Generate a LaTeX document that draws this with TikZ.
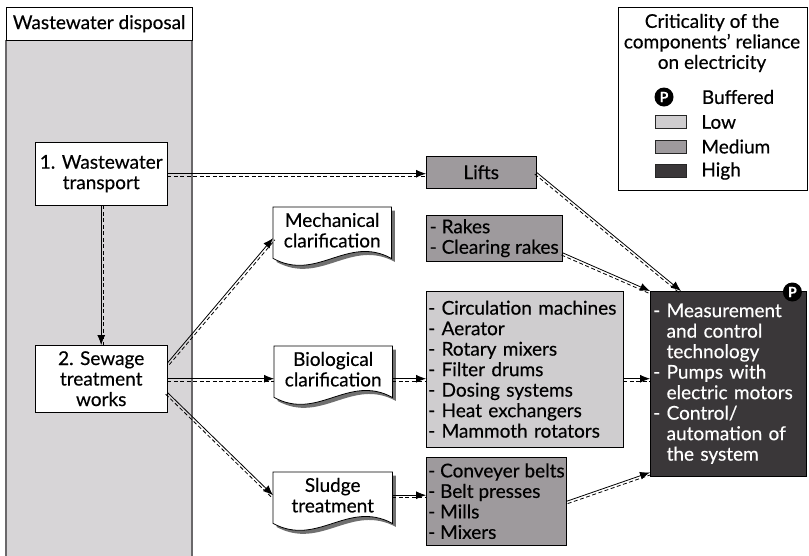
\documentclass[tikz,border=0pt]{standalone}
\usepackage{fontspec}
\setmainfont{Lato}[FakeBold=0.4]
\usetikzlibrary{arrows.meta,positioning,calc,backgrounds}
\definecolor{colgray}{HTML}{D7D5D7}
\definecolor{edgegray}{HTML}{6A686A}
\definecolor{lowgray}{HTML}{CFCDCF}
\definecolor{medgray}{HTML}{9E9A9D}
\definecolor{highgray}{HTML}{3A3739}
\definecolor{shadegray}{HTML}{707070}
\tikzset{>={Latex[length=10pt,width=8pt]},
  txt/.style={font=\fontsize{19}{20.5}\selectfont},
  headbox/.style={txt, draw, fill=white, anchor=north west, minimum width=186pt, minimum height=33pt, inner sep=0pt},
  plainbox/.style={txt, draw, fill=white, anchor=north west, align=center, inner sep=1pt},
  docnode/.style={txt, anchor=north west, align=center, minimum width=118pt, minimum height=46pt, inner sep=1pt},
  lowbox/.style={txt, draw, fill=lowgray, anchor=north west, align=left, inner sep=2pt},
  medbox/.style={txt, draw, fill=medgray, anchor=north west, align=left, inner sep=2pt},
  highbox/.style={txt, draw, fill=highgray, text=white, anchor=north west, align=left, inner sep=3pt},
  badge/.style={circle, fill=black, text=white, inner sep=0pt, minimum size=19pt, font=\fontsize{14}{14}\selectfont\bfseries},
  keybox/.style={draw=black!85, minimum width=31pt, minimum height=13pt, inner sep=0pt},
  solidlink/.style={draw, line width=0.8pt, ->},
  dashlink/.style={draw, line width=0.8pt, dash pattern=on 4pt off 2.5pt}}
% wavy document outline round a node
\newcommand{\docpath}[1]{(#1.north west) -- (#1.north east) -- ($(#1.south east)+(0,5)$)
  .. controls ($(#1.south)+(15,-19)$) and ($(#1.south)+(-15,29)$) .. ($(#1.south west)+(0,5)$) -- cycle}
% solid arrow with a dashed twin beside it
\newcommand{\twinlink}[3][-90]{%
  \path ($(#2)!2.5pt!#1:(#3)$) coordinate (tw-s) ($(#3)+(tw-s)-(#2)$) coordinate (tw-e);
  \draw[dashlink] (tw-s) -- (tw-e);
  \draw[solidlink] (#2) -- (#3);
}

\begin{document}
\begin{tikzpicture}[x=1pt, y=-1pt]
    \useasboundingbox (0,0) rectangle (809,555);
    % left column
    \fill[colgray] (6,40) rectangle (192,560);
    \draw[edgegray, line width=1.2pt] (6,40) -- (6,560) (192,40) -- (192,560);
    \node[headbox] (head) at (6,7) {Wastewater disposal};
    \node[plainbox, minimum width=132pt, minimum height=63pt] (trans) at (35,142) {1. Wastewater\\transport};
    \node[plainbox, minimum width=132pt, minimum height=67pt] (sew) at (35,345) {2. Sewage\\treatment\\works};

    % process steps
    \node[docnode] (mech) at (273,207) {Mechanical\\clarification};
    \node[docnode] (bio) at (274,346) {Biological\\clarification};
    \node[docnode, minimum width=119pt] (sludge) at (273,472) {Sludge\\treatment};
    \begin{scope}[on background layer]
    \foreach \d in {mech,bio,sludge} {
        \fill[shadegray, transform canvas={shift={(3.5pt,-3.5pt)}}] \docpath{\d};
        \draw[fill=white, line width=0.8pt] \docpath{\d};
    }
    \end{scope}

    % components
    \node[medbox, align=center, minimum width=110pt, minimum height=32pt] (lifts) at (426,156) {Lifts};
    \node[medbox, minimum width=136pt, minimum height=46pt] (rakes) at (426,215) {- Rakes\\- Clearing rakes};
    \node[lowbox, text width=193pt, minimum height=156pt] (circ) at (426,291) {- Circulation machines\\- Aerator\\- Rotary mixers\\- Filter drums\\- Dosing systems\\- Heat exchangers\\- Mammoth rotators};
    \node[medbox, minimum width=136pt, minimum height=88pt] (conv) at (426,457) {- Conveyer belts\\- Belt presses\\- Mills\\- Mixers};
    \node[highbox, text width=150pt, minimum height=185pt] (ctrl) at (650,291) {- Measurement\\\phantom{- }and control\\\phantom{- }technology\\- Pumps with\\\phantom{- }electric motors\\- Control/\\\phantom{- }automation of\\\phantom{- }the system};
    \node[badge] (ctrl-p) at ([xshift=-14pt,yshift=-1pt]ctrl.north east) {P};

    % legend
    \node[draw, fill=white, anchor=north west, minimum width=189pt, minimum height=183pt] (legend) at (618,7) {};
    \node[txt, align=center] (legend-title) at (712,43) {Criticality of the\\components' reliance\\on electricity};
    \node[badge] (key-p) at (664,97) {P};
    \node[txt, inner sep=0pt, right=28pt of key-p] (lab-p) {Buffered};
    \foreach \k/\c/\t/\y in {low/lowgray/Low/122, med/medgray/Medium/146.5, high/highgray/High/171} {
        \node[keybox, fill=\c] (key-\k) at (670.5,\y) {};
        \node[txt, inner sep=0pt, right=15pt of key-\k] (lab-\k) {\t};
    }

    % connectors
    \coordinate (sew-up) at ($(sew.north east)+(0,18)$);
    \coordinate (sew-dn) at ($(sew.south east)+(0,-20)$);
    \coordinate (mech-in) at ($(mech.west)+(0,8)$);
    \coordinate (bio-in) at (bio.west |- sew.east);
    \coordinate (bio-out) at (bio.east |- sew.east);
    \coordinate (circ-in) at (circ.west |- sew.east);
    \coordinate (circ-out) at (circ.east |- sew.east);
    \coordinate (ctrl-in) at (ctrl.west |- sew.east);
    \coordinate (lifts-in) at (trans.east -| lifts.west);
    \coordinate (conv-in) at (conv.west |- sludge.east);
    \coordinate (ctrl-low) at ([yshift=4pt]ctrl.south west);
    \twinlink[90]{trans.south}{sew.north}
    \twinlink{trans.east}{lifts-in}
    \twinlink{sew-up}{mech-in}
    \twinlink{sew.east}{bio-in}
    \twinlink{sew-dn}{sludge.west}
    \twinlink{bio-out}{circ-in}
    \twinlink{sludge.east}{conv-in}
    \twinlink{lifts.east}{ctrl.117}
    \twinlink{rakes.-12}{ctrl.north west}
    \twinlink{circ-out}{ctrl-in}
    \twinlink{conv.east}{ctrl-low}
\end{tikzpicture}
\end{document}
